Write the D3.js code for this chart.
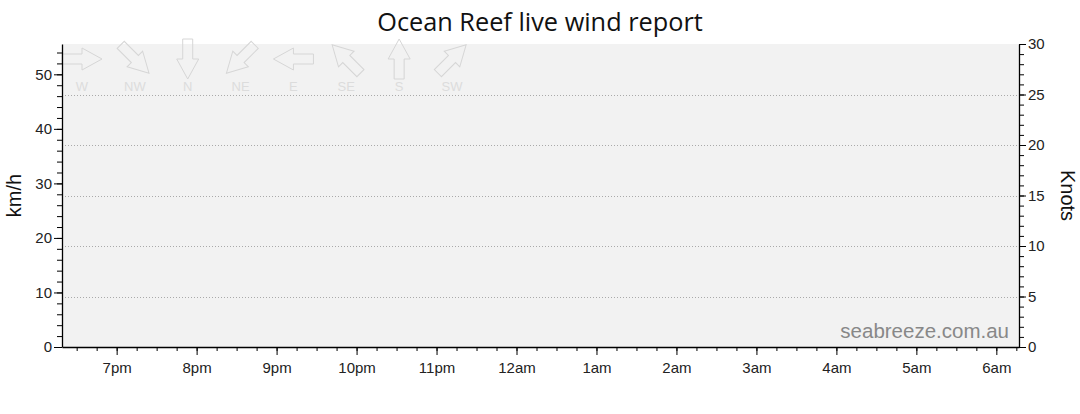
<!DOCTYPE html>
<html lang="en">
<head>
  <meta charset="UTF-8">
  <title>Ocean Reef live wind report</title>
  <style>
    body {
      margin: 0;
      background-color: #fff;
    }
    svg text {
      font-family: "Liberation Sans", Arial, sans-serif;
    }
    .grid line {
      stroke: #aaa;
      stroke-dasharray: 1,2;
    }
  </style>
</head>
<body>
  <div id="chart"></div>

  <script src="https://d3js.org/d3.v7.min.js"></script>
  <script>
    // chart values
    const title = "Ocean Reef live wind report";
    const knotRange = [0, 30];
    const kmhPerKnot = 1.852;
    const kmhTicks = [0, 10, 20, 30, 40, 50];
    const knotTicks = [0, 5, 10, 15, 20, 25, 30];
    const gridKnots = [5, 10, 15, 20, 25];
    const timeStart = new Date(2024, 0, 1, 18, 19);
    const timeEnd = new Date(2024, 0, 2, 6, 17);
    const directions = ["W", "NW", "N", "NE", "E", "SE", "S", "SW"];
    const bearings = [270, 315, 0, 45, 90, 135, 180, 225];

    const width = 1080;
    const height = 414;
    const margin = {top: 44, right: 61, bottom: 67, left: 62};
    const innerW = width - margin.left - margin.right;
    const innerH = height - margin.top - margin.bottom;

    const svg = d3.select("#chart")
                  .append("svg")
                  .attr("width", width)
                  .attr("height", height);

    const x = d3.scaleTime().domain([timeStart, timeEnd]).range([margin.left, margin.left + innerW]);
    const yKnots = d3.scaleLinear().domain(knotRange).range([margin.top + innerH, margin.top]);
    const yKmh = d3.scaleLinear().domain(knotRange.map(d => d * kmhPerKnot)).range([margin.top + innerH, margin.top]);

    // plot background
    svg.append("rect")
       .attr("x", margin.left)
       .attr("y", margin.top)
       .attr("width", innerW)
       .attr("height", innerH)
       .attr("fill", "#f2f2f2");

    // dotted grid at knot values
    svg.append("g")
       .attr("class", "grid")
       .selectAll("line")
       .data(gridKnots)
       .enter()
       .append("line")
       .attr("x1", margin.left)
       .attr("x2", margin.left + innerW)
       .attr("y1", d => Math.round(yKnots(d)) + 0.5)
       .attr("y2", d => Math.round(yKnots(d)) + 0.5);

    // title
    svg.append("text")
       .attr("x", width / 2)
       .attr("y", 31)
       .attr("text-anchor", "middle")
       .style("font-family", "'Open Sans', sans-serif")
       .style("font-size", "25.3px")
       .attr("fill", "#111")
       .text(title);

    // direction legend
    const arrowPath = "M-5,-20 L5,-20 L5,0 L11,0 L0,20 L-11,0 L-5,0 Z";
    const legend = svg.append("g");
    const dirX = d3.scalePoint().domain(directions).range([82, 452]);

    directions.forEach((dir, i) => {
      legend.append("path")
            .attr("d", arrowPath)
            .attr("transform", `translate(${dirX(dir)},59) rotate(${bearings[i]})`)
            .attr("fill", "none")
            .attr("stroke", "#d6d6d6")
            .attr("stroke-width", 1);
      legend.append("text")
            .attr("x", dirX(dir))
            .attr("y", 91)
            .attr("text-anchor", "middle")
            .style("font-size", "13px")
            .attr("fill", "#dcdcdc")
            .text(dir);
    });

    // watermark
    svg.append("text")
       .attr("x", 1009)
       .attr("y", 338)
       .attr("text-anchor", "end")
       .style("font-size", "20.5px")
       .attr("fill", "#888")
       .text("seabreeze.com.au");

    function styleAxis(g) {
      g.selectAll(".domain").attr("stroke", "#000").attr("stroke-width", 1.3);
      g.selectAll("line").attr("stroke", "#000");
      g.selectAll("text").style("font-size", "15px").attr("fill", "#222")
       .style("font-family", "'Liberation Sans', Arial, sans-serif");
    }

    // left axis (km/h) minor + major
    svg.append("g")
       .attr("transform", `translate(${margin.left},0)`)
       .call(d3.axisLeft(yKmh).tickValues(d3.range(0, 56, 2)).tickSize(5).tickFormat(""))
       .call(g => g.select(".domain").remove())
       .call(styleAxis);
    svg.append("g")
       .attr("transform", `translate(${margin.left},0)`)
       .call(d3.axisLeft(yKmh).tickValues(kmhTicks).tickSize(8).tickSizeOuter(0).tickPadding(2))
       .call(styleAxis);

    // right axis (knots)
    svg.append("g")
       .attr("transform", `translate(${margin.left + innerW},0)`)
       .call(d3.axisRight(yKnots).tickValues(d3.range(0, 31, 1)).tickSize(5).tickFormat(""))
       .call(g => g.select(".domain").remove())
       .call(styleAxis);
    svg.append("g")
       .attr("transform", `translate(${margin.left + innerW},0)`)
       .call(d3.axisRight(yKnots).tickValues(knotTicks).tickSize(7).tickSizeOuter(0).tickPadding(2))
       .call(styleAxis);

    // bottom time axis
    const fmt = d => d3.timeFormat("%-I")(d) + (d.getHours() < 12 ? "am" : "pm");
    svg.append("g")
       .attr("transform", `translate(0,${margin.top + innerH})`)
       .call(d3.axisBottom(x).ticks(d3.timeMinute.every(15)).tickSize(4).tickFormat(""))
       .call(g => g.select(".domain").remove())
       .call(styleAxis);
    svg.append("g")
       .attr("transform", `translate(0,${margin.top + innerH})`)
       .call(d3.axisBottom(x).ticks(d3.timeHour.every(1)).tickSize(8).tickSizeOuter(0).tickPadding(7).tickFormat(fmt))
       .call(styleAxis);

    // axis titles
    svg.append("text")
       .attr("transform", `translate(21,${margin.top + innerH / 2}) rotate(-90)`)
       .attr("text-anchor", "middle")
       .style("font-size", "20px")
       .attr("fill", "#111")
       .text("km/h");
    svg.append("text")
       .attr("transform", `translate(1061,${margin.top + innerH / 2}) rotate(90)`)
       .attr("text-anchor", "middle")
       .style("font-size", "20px")
       .attr("fill", "#111")
       .text("Knots");
  </script>
</body>
</html>
